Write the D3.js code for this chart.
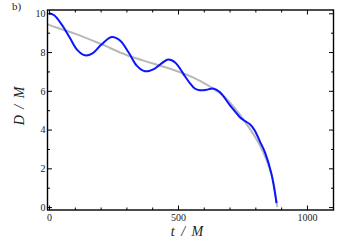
<!DOCTYPE html>
<html>
<head>
<meta charset="utf-8">
<script src="https://cdn.jsdelivr.net/npm/d3@7"></script>
<style>
  body { margin: 0; background: #fff; }
  svg { display: block; }
</style>
</head>
<body>
<script>
const W = 337, H = 252;
const margin = {left: 47.5, right: 3.5, top: 10, bottom: 42};
const serif = "'Liberation Serif', 'DejaVu Serif', serif";

// blue curve (numerical separation)
const tBlue = [0, 20, 50, 80, 110, 140, 170, 200, 243, 275, 310, 340, 372, 410, 440, 462, 490, 510, 527, 546, 565, 585, 610, 636, 662, 701, 720, 740, 760, 779, 797, 818, 838, 862, 882];
const dBlue = [10.0, 9.9, 9.4, 8.75, 8.1, 7.83, 7.95, 8.35, 8.78, 8.6, 7.95, 7.3, 7.01, 7.15, 7.45, 7.61, 7.45, 7.1, 6.75, 6.4, 6.12, 6.03, 6.05, 6.12, 5.94, 5.26, 4.95, 4.64, 4.44, 4.27, 3.97, 3.38, 2.8, 1.74, 0.2];

// grey curve (smooth fit)
const tGrey = [-6, 0, 100, 200, 300, 400, 500, 560, 620, 680, 720, 760, 800, 830, 855, 870, 885];
const dGrey = [9.45, 9.4, 8.95, 8.42, 7.85, 7.42, 7.0, 6.68, 6.25, 5.7, 5.1, 4.4, 3.6, 2.85, 2.0, 1.3, 0.0];

const xMajor = [0, 500, 1000];
const xMinor = [100, 200, 300, 400, 600, 700, 800, 900];
const yMajor = [0, 2, 4, 6, 8, 10];
const yMinor = [1, 3, 5, 7, 9];

const svg = d3.select("body").append("svg").attr("width", W).attr("height", H);

const x = d3.scaleLinear().domain([-6, 1103]).range([margin.left, W - margin.right]);
const y = d3.scaleLinear().domain([-0.15, 10.17]).range([H - margin.bottom, margin.top]);

// curves
const line = d3.line().x(d => x(d[0])).y(d => y(d[1])).curve(d3.curveCatmullRom.alpha(0.5));

svg.append("path")
    .datum(d3.zip(tGrey, dGrey))
    .attr("d", line)
    .attr("fill", "none")
    .attr("stroke", "#b8b8b8")
    .attr("stroke-width", 2);

svg.append("path")
    .datum(d3.zip(tBlue, dBlue))
    .attr("d", line)
    .attr("fill", "none")
    .attr("stroke", "#0a14ff")
    .attr("stroke-width", 2);

// axes, ticks pointing inward
function addAxis(axisFn, scale, major, minor, tr, labels) {
    const g = svg.append("g").attr("transform", tr);
    g.call(axisFn(scale).tickValues(minor).tickSize(-2.5).tickSizeOuter(0).tickFormat(""));
    g.select(".domain").remove();
    const g2 = svg.append("g").attr("transform", tr);
    g2.call(axisFn(scale).tickValues(major).tickSize(-4.5).tickSizeOuter(0)
        .tickPadding(labels ? 4 : 0).tickFormat(labels ? d3.format("d") : ""));
    g2.select(".domain").remove();
    g2.attr("font-family", serif).attr("font-size", 10);
    g2.selectAll("text").attr("fill", "#222");
    return g2;
}
addAxis(d3.axisBottom, x, xMajor, xMinor, `translate(0,${H - margin.bottom})`, true);
addAxis(d3.axisTop, x, xMajor, xMinor, `translate(0,${margin.top})`, false);
addAxis(d3.axisLeft, y, yMajor, yMinor, `translate(${margin.left},0)`, true).selectAll("text").attr("dx", "2");
addAxis(d3.axisRight, y, yMajor, yMinor, `translate(${W - margin.right},0)`, false);

svg.selectAll(".tick line").attr("stroke", "#000").attr("stroke-width", 1);

// frame
svg.append("rect")
    .attr("x", margin.left).attr("y", margin.top)
    .attr("width", W - margin.left - margin.right)
    .attr("height", H - margin.top - margin.bottom)
    .attr("fill", "none").attr("stroke", "#000").attr("stroke-width", 1.4);

// labels
svg.append("text")
    .attr("x", 187).attr("y", 236)
    .attr("text-anchor", "middle")
    .attr("font-family", serif).attr("font-style", "italic").attr("font-size", 14)
    .attr("word-spacing", 3)
    .attr("fill", "#222")
    .text("t / M");

svg.append("text")
    .attr("transform", "translate(24,106) rotate(-90)")
    .attr("text-anchor", "middle")
    .attr("font-family", serif).attr("font-style", "italic").attr("font-size", 14)
    .attr("word-spacing", 3)
    .attr("fill", "#222")
    .text("D / M");

svg.append("text")
    .attr("x", 12).attr("y", 10)
    .attr("font-family", serif).attr("font-size", 11)
    .attr("fill", "#222")
    .text("b)");
</script>
</body>
</html>
